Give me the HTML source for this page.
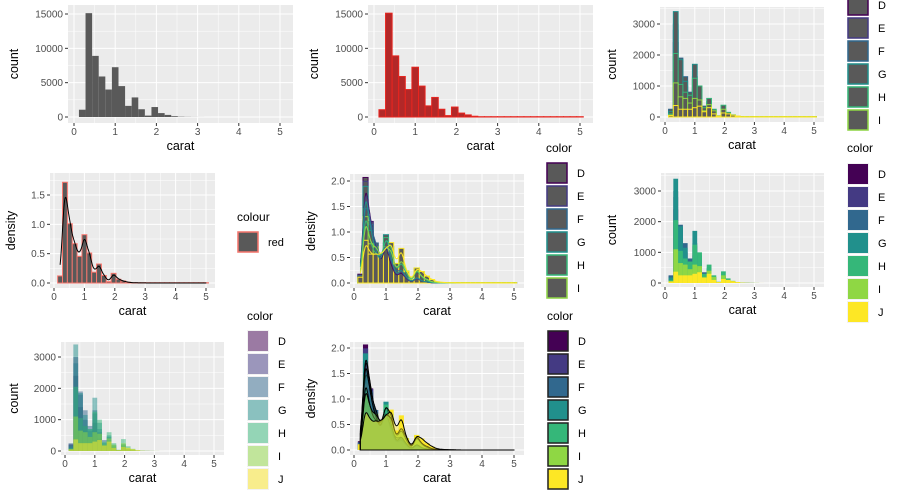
<!DOCTYPE html>
<html><head><meta charset="utf-8"><style>
body{margin:0;background:#fff}svg{display:block;font-family:"Liberation Sans",sans-serif}
</style></head><body>
<svg id="c" width="900" height="500" viewBox="0 0 900 500"></svg>
<script>
const levels=["D","E","F","G","H","I","J"];
const binStart=0.12, binWidth=0.16;
const countD=[200,2400,1400,800,450,900,400,150,250,90,20,120,40,20,5,2,1,1,0,0,0,0,0,0,0,0,0,0,0,0,0];
const countE=[220,3000,1800,1000,650,1200,600,200,350,120,25,150,50,25,10,3,2,1,0,0,0,0,0,0,0,0,0,0,0,0,0];
const countF=[250,2800,1900,1300,800,1300,700,350,450,170,30,200,60,30,12,4,2,1,0,0,0,0,0,0,0,0,0,0,0,0,0];
const countG=[180,3400,1850,1150,700,1700,900,250,500,200,30,220,70,40,15,5,3,2,1,0,0,0,0,0,0,0,0,0,0,0,0];
const countH=[100,2050,1050,800,700,1250,1000,300,600,250,40,380,150,70,20,8,4,2,1,0,0,0,0,0,0,0,0,0,0,0,0];
const countI=[60,1100,650,600,450,600,550,200,400,200,30,250,100,60,20,8,4,2,1,0,0,0,0,0,0,0,0,0,0,0,0];
const countJ=[50,370,250,250,250,300,350,170,300,100,30,130,100,60,30,10,5,3,2,1,0,0,0,0,0,0,0,0,0,0,0];
const groups=[countD,countE,countF,countG,countH,countI,countJ];
const viridis=["#440154","#443A83","#31688E","#21908C","#35B779","#8FD744","#FDE725"];
const xTicks=[0,1,2,3,4,5];

const NS="http://www.w3.org/2000/svg", svg=document.getElementById("c");
function mk(tag,at,parent){const e=document.createElementNS(NS,tag);for(const k in at)e.setAttribute(k,at[k]);(parent||svg).appendChild(e);return e;}
const total=countD.map((_,i)=>groups.reduce((s,g)=>s+g[i],0));
function dens(arr){const n=arr.reduce((a,b)=>a+b,0);return arr.map(v=>v/(n*binWidth));}
function kde(arr){const n=arr.reduce((a,b)=>a+b,0),h=0.085,pts=[];
  for(let x=0.2;x<=5.01;x+=0.01){let s=0;arr.forEach((c,k)=>{const ctr=binStart+binWidth*(k+0.5);const u=(x-ctr)/h;s+=c*Math.exp(-0.5*u*u);});pts.push([x,s/(n*h*Math.sqrt(2*Math.PI))]);}
  return pts;}
let pid=0;
function panel(p){
  pid++;
  const g=mk("g",{});
  const sx=v=>p.x0+(v)*(p.x5-p.x0)/5, sy=v=>p.y0-v*(p.y0-p.yt)/p.ytv;
  mk("rect",{x:p.L,y:p.T,width:p.R-p.L,height:p.B-p.T,fill:"#EBEBEB"},g);
  const cp=mk("clipPath",{id:"cp"+pid},g);mk("rect",{x:p.L,y:p.T,width:p.R-p.L,height:p.B-p.T},cp);
  for(let v=0.5;v<5;v+=1)mk("line",{x1:sx(v),x2:sx(v),y1:p.T,y2:p.B,stroke:"#fff","stroke-width":0.5},g);
  for(let i=0;i<p.yTicks.length;i++){const v=p.yTicks[i]+p.step/2;if(sy(v)>p.T)mk("line",{x1:p.L,x2:p.R,y1:sy(v),y2:sy(v),stroke:"#fff","stroke-width":0.5},g);}
  xTicks.forEach(v=>mk("line",{x1:sx(v),x2:sx(v),y1:p.T,y2:p.B,stroke:"#fff","stroke-width":1},g));
  p.yTicks.forEach(v=>mk("line",{x1:p.L,x2:p.R,y1:sy(v),y2:sy(v),stroke:"#fff","stroke-width":1},g));
  const m=mk("g",{"clip-path":`url(#cp${pid})`},g);
  p.draw(m,sx,sy);
  xTicks.forEach(v=>{mk("line",{x1:sx(v),x2:sx(v),y1:p.B,y2:p.B+3,stroke:"#333"},g);
    const t=mk("text",{x:sx(v),y:p.B+12,"font-size":10,fill:"#4D4D4D","text-anchor":"middle"},g);t.textContent=v;
    });
  p.yTicks.forEach((v,i)=>{mk("line",{x1:p.L-3,x2:p.L,y1:sy(v),y2:sy(v),stroke:"#333"},g);
    const t=mk("text",{x:p.L-5,y:sy(v)+3.5,"font-size":10,fill:"#4D4D4D","text-anchor":"end"},g);t.textContent=p.yLabels[i];
    });
  const xt=mk("text",{x:(p.L+p.R)/2,y:p.B+27,"font-size":12.5,"text-anchor":"middle"},g);xt.textContent="carat";
  
  const yx=p.ylx, yy=(p.T+p.B)/2;
  const yt=mk("text",{x:yx,y:yy,"font-size":12.5,"text-anchor":"middle",transform:`rotate(-90 ${yx} ${yy})`},g);yt.textContent=p.ylab;
  
}
function bars(m,sx,sy,arr,fill,stroke,op){arr.forEach((v,k)=>{const a=binStart+binWidth*k;
  const h=Math.max(stroke?0.3:0,sy(0)-sy(v));
  const r=mk("rect",{x:sx(a),y:sy(0)-h,width:sx(a+binWidth)-sx(a),height:h,fill:fill,stroke:stroke||"none","stroke-width":stroke?1:0,"fill-opacity":op==null?1:op},m);
  });}
function line(m,sx,sy,pts,stroke,fill,fop){let d="M"+pts.map(q=>sx(q[0]).toFixed(1)+","+sy(q[1]).toFixed(1)).join("L");
  if(fill){d+=`L${sx(pts[pts.length-1][0])},${sy(0)}L${sx(pts[0][0])},${sy(0)}Z`;}
  const e=mk("path",{d:d,fill:fill||"none","fill-opacity":fop||1,stroke:stroke,"stroke-width":1},m);
  }
function legend(x,titleY,keyTop,fills,strokes,op,n,title){
  const g=mk("g",{});
  const t=mk("text",{x:x,y:titleY,"font-size":12},g);t.textContent=title||"color";
  for(let i=0;i<n;i++){const y=keyTop+i*23;
    mk("rect",{x:x,y:y,width:22,height:22,fill:"#F2F2F2"},g);
    const r=mk("rect",{x:x+1,y:y+1,width:20,height:20,fill:fills[i],"fill-opacity":op,stroke:strokes?strokes[i]:"none","stroke-width":1.5},g);
    
    const l=mk("text",{x:x+31,y:y+15,"font-size":11},g);l.textContent=(title==="colour")?"red":levels[i];
    }
}
const ct=[0,5000,10000,15000], c3=[0,1000,2000,3000], d4=[0,0.5,1,1.5], d5=[0,0.5,1,1.5,2];
const grey="#595959";
panel({name:"panel-count-histogram",L:68,R:293,T:5,B:123,x0:74,x5:280,y0:117,yt:14,ytv:15000,yTicks:ct,step:5000,yLabels:["0","5000","10000","15000"],ylab:"count",ylx:18,
  draw:(m,sx,sy)=>bars(m,sx,sy,total,grey)});
panel({name:"panel-red-histogram",L:368,R:593,T:5,B:123,x0:374,x5:580,y0:117,yt:14,ytv:15000,yTicks:ct,step:5000,yLabels:["0","5000","10000","15000"],ylab:"count",ylx:318,
  draw:(m,sx,sy)=>bars(m,sx,sy,total,"#B22828","#E8251F")});
panel({name:"panel-color-outline-histogram",L:660,R:824,T:7,B:122,x0:665,x5:814,y0:117,yt:24,ytv:3000,yTicks:c3,step:1000,yLabels:["0","1000","2000","3000"],ylab:"count",ylx:616,
  draw:(m,sx,sy)=>groups.forEach((a,i)=>bars(m,sx,sy,a,grey,viridis[i]))});
panel({name:"panel-density-red",L:50,R:215,T:173,B:288,x0:54,x5:206,y0:283,yt:195,ytv:1.5,yTicks:d4,step:0.5,yLabels:["0.0","0.5","1.0","1.5"],ylab:"density",ylx:15,
  draw:(m,sx,sy)=>{bars(m,sx,sy,dens(total),grey,"#F8766D");line(m,sx,sy,kde(total),"#000");}});
panel({name:"panel-density-color-lines",L:350,R:524,T:174,B:288,x0:354,x5:514,y0:283,yt:181,ytv:2,yTicks:d5,step:0.5,yLabels:["0.0","0.5","1.0","1.5","2.0"],ylab:"density",ylx:315,
  draw:(m,sx,sy)=>{groups.forEach((a,i)=>bars(m,sx,sy,dens(a),grey,viridis[i]));groups.forEach((a,i)=>line(m,sx,sy,kde(a),viridis[i]));}});
panel({name:"panel-color-fill-histogram",L:661,R:824,T:173,B:287,x0:665,x5:814,y0:283,yt:191,ytv:3000,yTicks:c3,step:1000,yLabels:["0","1000","2000","3000"],ylab:"count",ylx:616,
  draw:(m,sx,sy)=>groups.forEach((a,i)=>bars(m,sx,sy,a,viridis[i]))});
panel({name:"panel-alpha-fill-histogram",L:61,R:224,T:342,B:455,x0:65,x5:214,y0:451,yt:357,ytv:3000,yTicks:c3,step:1000,yLabels:["0","1000","2000","3000"],ylab:"count",ylx:18,
  draw:(m,sx,sy)=>groups.forEach((a,i)=>bars(m,sx,sy,a,viridis[i],null,0.5))});
panel({name:"panel-density-fill",L:350,R:524,T:342,B:455,x0:354,x5:514,y0:450,yt:348,ytv:2,yTicks:d5,step:0.5,yLabels:["0.0","0.5","1.0","1.5","2.0"],ylab:"density",ylx:315,
  draw:(m,sx,sy)=>{groups.forEach((a,i)=>bars(m,sx,sy,dens(a),viridis[i]));groups.forEach((a,i)=>line(m,sx,sy,kde(a),"#000",viridis[i],0.45));}});
const greys=levels.map(()=>grey);
legend(847,-30,-6,greys,viridis,1,6);
legend(237,221,231,[grey],["#F8766D"],1,1,"colour");
legend(546,152,162,greys,viridis,1,6);
legend(847,152,163,viridis,null,1,7);
legend(247,320,330,viridis,null,0.5,7);
legend(547,320,330,viridis,levels.map(()=>"#222"),1,7);
</script>
</body></html>
